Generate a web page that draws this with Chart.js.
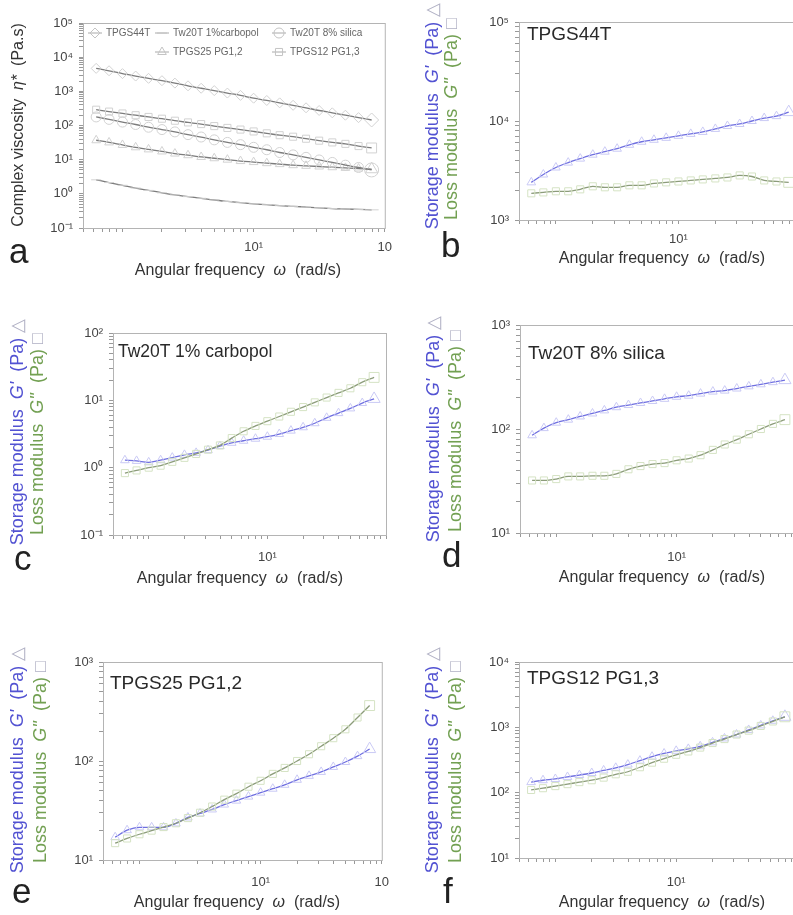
<!DOCTYPE html>
<html>
<head>
<meta charset="utf-8">
<script src="https://cdn.jsdelivr.net/npm/chart.js@4.4.1/dist/chart.umd.min.js"></script>
<style>
html, body { margin: 0; padding: 0; background: #fff; }
body { width: 793px; height: 915px; overflow: hidden; position: relative;
       font-family: "Liberation Sans", Arial, Helvetica, sans-serif; }
canvas { position: absolute; }
.t { position: absolute; white-space: nowrap; line-height: 1; color: #333; }
.rot { transform: translate(-50%, -50%) rotate(-90deg); font-size: 16px; }
.mod { font-size: 18px; }
.xt { transform: translate(-50%, -50%); font-size: 16px; color: #333; }
.lbl { transform: translate(0, -50%); font-size: 19px; color: #2a2a2a; }
.let { font-size: 35px; color: #222; }
.blue { color: #5252d2; }
.green { color: #72a052; }
.sym { color: #b0b0c4; }
</style>
</head>
<body>
<canvas id="pa"></canvas>
<canvas id="pb"></canvas>
<canvas id="pc"></canvas>
<canvas id="pd"></canvas>
<canvas id="pe"></canvas>
<canvas id="pf"></canvas>

<!-- y axis titles -->
<div class="t rot" style="left:18px;top:125px">Complex viscosity &nbsp;<i>η*</i> &nbsp;(Pa.s)</div>

<div class="t rot mod blue" style="left:432px;top:116px">Storage modulus &nbsp;<i>G'</i> &nbsp;(Pa) <span class="sym">△</span></div>
<div class="t rot mod green" style="left:451px;top:119px">Loss modulus &nbsp;<i>G''</i> &nbsp;(Pa) <span class="sym">□</span></div>

<div class="t rot mod blue" style="left:17px;top:432px">Storage modulus &nbsp;<i>G'</i> &nbsp;(Pa) <span class="sym">△</span></div>
<div class="t rot mod green" style="left:37px;top:434px">Loss modulus &nbsp;<i>G''</i> &nbsp;(Pa) <span class="sym">□</span></div>

<div class="t rot mod blue" style="left:433px;top:429px">Storage modulus &nbsp;<i>G'</i> &nbsp;(Pa) <span class="sym">△</span></div>
<div class="t rot mod green" style="left:455px;top:431px">Loss modulus &nbsp;<i>G''</i> &nbsp;(Pa) <span class="sym">□</span></div>

<div class="t rot mod blue" style="left:17px;top:760px">Storage modulus &nbsp;<i>G'</i> &nbsp;(Pa) <span class="sym">△</span></div>
<div class="t rot mod green" style="left:40px;top:762px">Loss modulus &nbsp;<i>G''</i> &nbsp;(Pa) <span class="sym">□</span></div>

<div class="t rot mod blue" style="left:432px;top:760px">Storage modulus &nbsp;<i>G'</i> &nbsp;(Pa) <span class="sym">△</span></div>
<div class="t rot mod green" style="left:455px;top:762px">Loss modulus &nbsp;<i>G''</i> &nbsp;(Pa) <span class="sym">□</span></div>

<!-- x axis titles -->
<div class="t xt" style="left:238px;top:270px">Angular frequency &nbsp;<i>ω</i> &nbsp;(rad/s)</div>
<div class="t xt" style="left:662px;top:258px">Angular frequency &nbsp;<i>ω</i> &nbsp;(rad/s)</div>
<div class="t xt" style="left:240px;top:578px">Angular frequency &nbsp;<i>ω</i> &nbsp;(rad/s)</div>
<div class="t xt" style="left:662px;top:577px">Angular frequency &nbsp;<i>ω</i> &nbsp;(rad/s)</div>
<div class="t xt" style="left:237px;top:902px">Angular frequency &nbsp;<i>ω</i> &nbsp;(rad/s)</div>
<div class="t xt" style="left:662px;top:902px">Angular frequency &nbsp;<i>ω</i> &nbsp;(rad/s)</div>

<!-- sample names inside plots -->
<div class="t lbl" style="left:527px;top:33px">TPGS44T</div>
<div class="t lbl" style="left:118px;top:352px;font-size:17.5px">Tw20T 1% carbopol</div>
<div class="t lbl" style="left:528px;top:352px">Tw20T 8% silica</div>
<div class="t lbl" style="left:110px;top:682px">TPGS25 PG1,2</div>
<div class="t lbl" style="left:527px;top:677px">TPGS12 PG1,3</div>

<!-- panel letters -->
<div class="t let" style="left:9px;top:233px">a</div>
<div class="t let" style="left:441px;top:227px">b</div>
<div class="t let" style="left:14px;top:540px">c</div>
<div class="t let" style="left:442px;top:537px">d</div>
<div class="t let" style="left:12px;top:873px">e</div>
<div class="t let" style="left:443px;top:873px">f</div>

<script>
// angular frequency (rad/s), same sweep for every sample
const freq = [0.63, 0.79, 1.0, 1.26, 1.58, 2.0, 2.51, 3.16, 3.98, 5.01, 6.31,
              7.94, 10.0, 12.6, 15.8, 20.0, 25.1, 31.6, 39.8, 50.1, 63.1, 79.4];

// panel a: complex viscosity (Pa.s)
const seriesNames = ['TPGS44T', 'Tw20T 1%carbopol', 'Tw20T 8% silica', 'TPGS25 PG1,2', 'TPGS12 PG1,3'];
const etaTPGS44T = [4700, 4000, 3300, 2800, 2400, 2050, 1740, 1450, 1230, 1050, 890,
                    760, 630, 540, 460, 390, 330, 275, 235, 200, 170, 145];
const etaCarbopol = [2.57, 2.14, 1.78, 1.48, 1.26, 1.07, 0.93, 0.83, 0.74, 0.66, 0.60,
                     0.55, 0.51, 0.48, 0.45, 0.43, 0.41, 0.39, 0.37, 0.36, 0.35, 0.34];
const etaSilica = [178, 151, 126, 107, 89, 76, 65, 54, 46, 38, 32,
                   27.5, 23, 19.5, 16.2, 13.8, 11.7, 9.8, 8.3, 6.9, 5.9, 5.0];
const etaTPGS25 = [37, 32, 27, 23, 20, 17.4, 15.1, 13.5, 12.0, 11.0, 10.0,
                   9.1, 8.5, 7.9, 7.4, 6.9, 6.6, 6.3, 6.0, 5.75, 5.5, 5.25];
const etaTPGS12 = [290, 255, 225, 200, 178, 158, 138, 123, 110, 96, 85,
                   76, 67, 59, 52, 47, 41, 36, 32, 29, 25, 22];

// panels b-f: storage G' and loss G'' modulus (Pa)
const gp44 = [2400, 2880, 3390, 3800, 4170, 4570, 4900, 5250, 5750, 6170, 6460,
              6760, 7080, 7410, 7760, 8320, 8910, 9330, 10000, 10700, 11200, 12300];
const gpp44 = [1860, 1900, 1950, 1950, 2040, 2190, 2140, 2140, 2240, 2240, 2340,
               2400, 2450, 2510, 2570, 2630, 2690, 2820, 2750, 2510, 2450, 2400];
const gpCarb = [1.29, 1.26, 1.20, 1.29, 1.41, 1.55, 1.66, 1.82, 2.09, 2.34, 2.51,
                2.69, 2.88, 3.16, 3.55, 3.98, 4.57, 5.50, 6.46, 7.59, 9.12, 10.5];
const gppCarb = [0.83, 0.91, 1.0, 1.07, 1.22, 1.40, 1.60, 1.85, 2.14, 2.75, 3.47,
                 4.17, 4.90, 5.75, 6.76, 7.94, 9.33, 11.0, 12.9, 15.1, 18.6, 21.9];
const gpSil = [87, 102, 115, 123, 132, 141, 151, 162, 170, 178, 186,
               195, 204, 209, 219, 229, 234, 245, 257, 269, 282, 295];
const gppSil = [32, 32, 33, 35, 35, 35.5, 35.5, 37, 41, 44, 46,
                47, 50, 52, 56, 63, 71, 79, 89, 100, 112, 123];
const gp25 = [17.0, 20.0, 21.4, 21.4, 21.4, 23.4, 26.9, 29.5, 32.4, 36.3, 39.8,
              43.7, 47.9, 52.5, 57.5, 64.6, 70.8, 77.6, 87.1, 97.7, 112, 132];
const gpp25 = [14.8, 16.5, 18.2, 19.8, 21.5, 23.5, 26.5, 30.0, 34.7, 40.7, 46.8,
               55.0, 63.1, 74.1, 85.1, 100, 117, 141, 170, 209, 275, 363];
const gp12 = [145, 155, 162, 174, 186, 200, 219, 240, 269, 309, 355,
              398, 437, 468, 513, 589, 676, 776, 912, 1070, 1260, 1450];
const gpp12 = [110, 117, 126, 135, 145, 155, 170, 191, 209, 245, 288,
               331, 380, 427, 490, 575, 661, 776, 891, 1050, 1230, 1450];

// axis ticks
const xTicks = [0.5, 0.6, 0.7, 0.8, 0.9, 1, 2, 3, 4, 5, 6, 7, 8, 9,
                10, 20, 30, 40, 50, 60, 70, 80, 90, 100];
const minorSteps = [1, 2, 3, 4, 5, 6, 7, 8, 9];
const decades = [0.1, 1, 10, 100, 1000, 10000, 100000];
const decadeLabels = ['10⁻¹', '10⁰', '10¹', '10²', '10³', '10⁴', '10⁵'];

const FONT = '"Liberation Sans", Arial, Helvetica, sans-serif';
const GREY_LINE = '#7c7c7c', GREY_MARK = '#d2d2d2';
const BLUE_LINE = '#6f6fe0', BLUE_MARK = '#cacaf5';
const GREEN_LINE = '#8c9c7a', GREEN_MARK = '#d5e3c4';

function decadeLabel(v) {
  const i = decades.findIndex(d => Math.abs(v / d - 1) < 1e-6);
  return i < 0 ? '' : decadeLabels[i];
}

function yTickList(lo, hi) {
  const out = [];
  for (let d = lo; d < hi * 0.999; d *= 10) {
    for (const m of minorSteps) out.push(+(d * m).toPrecision(6));
  }
  out.push(hi);
  return out;
}

function series(vals, line, mark, style) {
  return {
    data: freq.map((f, i) => ({ x: f, y: vals[i] })),
    borderColor: line,
    borderWidth: 1.3,
    pointStyle: style,
    pointBorderColor: mark,
    pointBackgroundColor: 'rgba(0,0,0,0)',
    pointBorderWidth: 1,
    pointRadius: c => (c.dataIndex === vals.length - 1 ? 7 : 5),
    cubicInterpolationMode: 'monotone',
    fill: false
  };
}

const frame = {
  id: 'frame',
  beforeDatasetsDraw(c) {
    const a = c.chartArea, ctx = c.ctx;
    ctx.save();
    ctx.strokeStyle = '#b4b4b4';
    ctx.lineWidth = 1;
    ctx.strokeRect(a.left + 0.5, a.top + 0.5, a.right - a.left, a.bottom - a.top);
    ctx.restore();
  }
};

// legend of panel a, drawn inside the plot
const legendPos = [[95, 33], [162, 33], [279, 33], [162, 52], [279, 52]];
const legendStyles = ['rectRot', 'line', 'circle', 'triangle', 'rect'];
const legendA = {
  id: 'legendA',
  afterDraw(c) {
    const ctx = c.ctx;
    ctx.save();
    ctx.font = '10px ' + FONT;
    ctx.textBaseline = 'middle';
    seriesNames.forEach((name, i) => {
      const [x, y] = legendPos[i];
      ctx.strokeStyle = '#aaa';
      ctx.lineWidth = 1;
      ctx.beginPath(); ctx.moveTo(x - 7, y); ctx.lineTo(x + 7, y); ctx.stroke();
      ctx.strokeStyle = '#c4c4c4';
      ctx.fillStyle = 'rgba(0,0,0,0)';
      Chart.helpers.drawPoint(ctx, { pointStyle: legendStyles[i], radius: 5, borderWidth: 1 }, x, y);
      ctx.fillStyle = '#666';
      ctx.fillText(name, x + 11, y);
    });
    ctx.restore();
  }
};

function makePanel(id, box, plot, yMin, yMax, xLabels, xPad, datasets, extra) {
  const cv = document.getElementById(id);
  cv.width = box.w; cv.height = box.h;
  cv.style.left = box.x + 'px'; cv.style.top = box.y + 'px';
  const yW = plot.L - box.x;
  const padTop = plot.T - box.y;
  const padRight = box.x + box.w - plot.R;
  const xH = box.y + box.h - plot.B;
  const yTicks = yTickList(yMin, yMax);
  new Chart(cv, {
    type: 'line',
    data: { datasets },
    options: {
      responsive: false,
      animation: false,
      layout: { padding: { top: padTop, right: padRight, left: 0, bottom: 0 }, autoPadding: false },
      plugins: { legend: { display: false }, tooltip: { enabled: false } },
      scales: {
        x: {
          type: 'logarithmic', min: 0.5, max: 100,
          afterBuildTicks: s => { s.ticks = xTicks.map(v => ({ value: v })); },
          afterFit: s => { s.height = xH; },
          ticks: { autoSkip: false, maxRotation: 0, padding: xPad, color: '#444',
                   font: { size: 13, family: FONT }, callback: v => xLabels[v] || '' },
          grid: { drawOnChartArea: false, tickLength: 4, color: '#999' },
          border: { color: '#999' }
        },
        y: {
          type: 'logarithmic', min: yMin, max: yMax,
          afterBuildTicks: s => { s.ticks = yTicks.map(v => ({ value: v })); },
          afterFit: s => { s.width = yW; },
          ticks: { autoSkip: false, padding: 6, color: '#444',
                   font: { size: 13, family: FONT }, callback: v => decadeLabel(v) },
          grid: { drawOnChartArea: false, tickLength: 4, color: '#999' },
          border: { color: '#999' }
        }
      }
    },
    plugins: [frame].concat(extra || [])
  });
}

makePanel('pa', { x: 0, y: 0, w: 400, h: 285 }, { L: 83, T: 23, R: 386, B: 228 },
  0.1, 100000, { 10: '10¹', 100: '10' }, 8, [
    series(etaTPGS44T, GREY_LINE, GREY_MARK, 'rectRot'),
    series(etaCarbopol, GREY_LINE, GREY_MARK, 'line'),
    series(etaSilica, GREY_LINE, GREY_MARK, 'circle'),
    series(etaTPGS25, GREY_LINE, GREY_MARK, 'triangle'),
    series(etaTPGS12, GREY_LINE, GREY_MARK, 'rect')
  ], [legendA]);

makePanel('pb', { x: 400, y: 0, w: 410, h: 275 }, { L: 519, T: 22, R: 801, B: 220 },
  1000, 100000, { 10: '10¹' }, 8, [
    series(gpp44, GREEN_LINE, GREEN_MARK, 'rect'),
    series(gp44, BLUE_LINE, BLUE_MARK, 'triangle')
  ]);

makePanel('pc', { x: 0, y: 300, w: 400, h: 290 }, { L: 113, T: 333, R: 386, B: 535 },
  0.1, 100, { 10: '10¹' }, 11, [
    series(gppCarb, GREEN_LINE, GREEN_MARK, 'rect'),
    series(gpCarb, BLUE_LINE, BLUE_MARK, 'triangle')
  ]);

makePanel('pd', { x: 400, y: 300, w: 410, h: 290 }, { L: 520, T: 325, R: 801, B: 533 },
  10, 1000, { 10: '10¹' }, 13, [
    series(gppSil, GREEN_LINE, GREEN_MARK, 'rect'),
    series(gpSil, BLUE_LINE, BLUE_MARK, 'triangle')
  ]);

makePanel('pe', { x: 0, y: 620, w: 400, h: 295 }, { L: 103, T: 662, R: 385, B: 860 },
  10, 1000, { 10: '10¹', 100: '10' }, 11, [
    series(gpp25, GREEN_LINE, GREEN_MARK, 'rect'),
    series(gp25, BLUE_LINE, BLUE_MARK, 'triangle')
  ]);

makePanel('pf', { x: 400, y: 620, w: 410, h: 295 }, { L: 519, T: 662, R: 801, B: 858 },
  10, 10000, { 10: '10¹' }, 13, [
    series(gpp12, GREEN_LINE, GREEN_MARK, 'rect'),
    series(gp12, BLUE_LINE, BLUE_MARK, 'triangle')
  ]);
</script>
</body>
</html>
